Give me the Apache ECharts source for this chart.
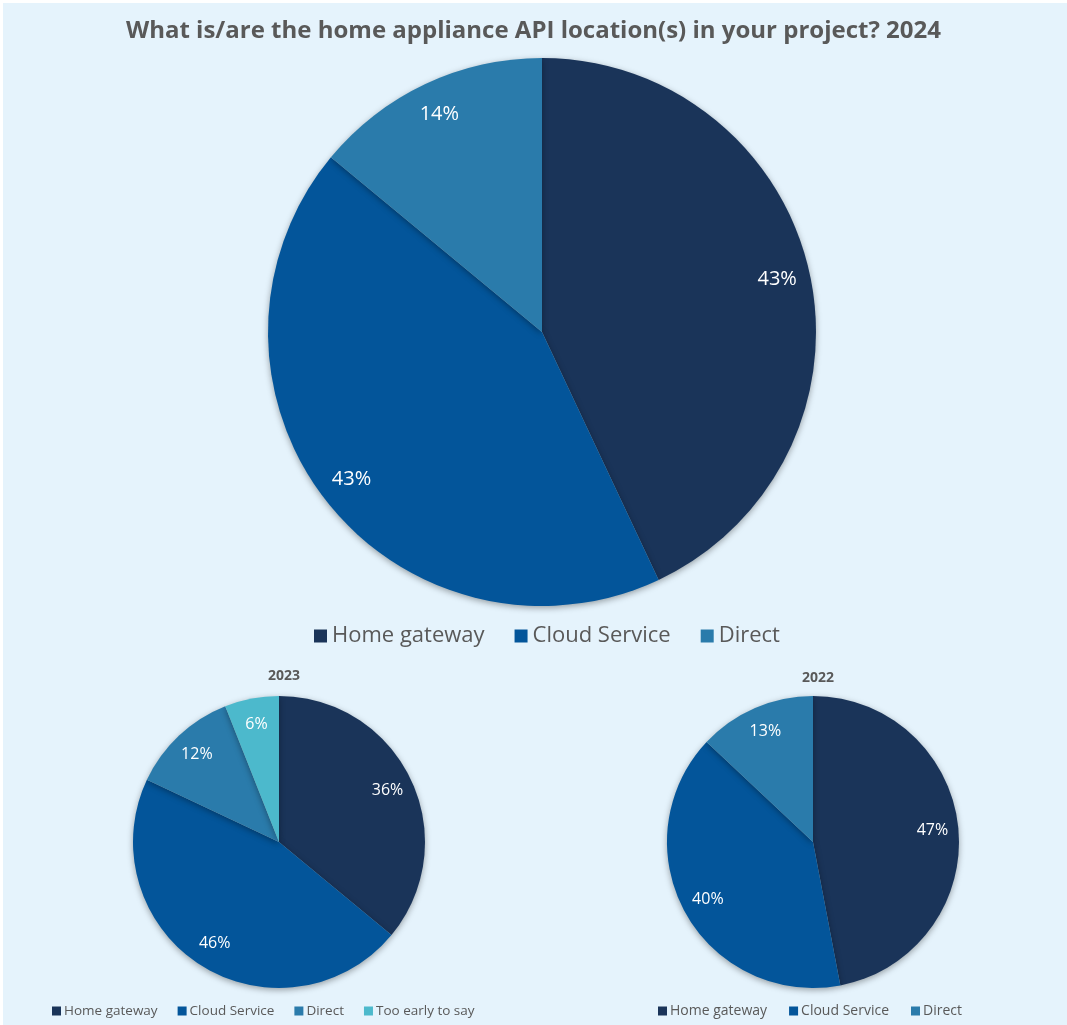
<!DOCTYPE html>
<html>
<head>
<meta charset="utf-8">
<script src="https://cdn.jsdelivr.net/npm/echarts@6/dist/echarts.min.js"></script>
<style>
  html, body { margin: 0; padding: 0; background: #ffffff; }
  #chart {
    width: 1067px; height: 1025px;
    background: #e5f3fc;
    box-shadow: inset 3px 3px 0 #ffffff;
  }
</style>
</head>
<body>
<div id="chart"></div>
<script>
// Survey answers, percent of respondents
const titleText = 'What is/are the home appliance API location(s) in your project? 2024';
const categories2024 = ['Home gateway', 'Cloud Service', 'Direct'];
const values2024 = [43, 43, 14];
const categories2023 = ['Home gateway', 'Cloud Service', 'Direct', 'Too early to say'];
const values2023 = [36, 46, 12, 6];
const categories2022 = ['Home gateway', 'Cloud Service', 'Direct'];
const values2022 = [47, 40, 13];
const yearLabels = ['2023', '2022'];

const palette = {
  'Home gateway': '#1a3459',
  'Cloud Service': '#03559a',
  'Direct': '#2a7bab',
  'Too early to say': '#4cb9cc'
};

const FONT = '"Open Sans", "Noto Sans", sans-serif';

function toData(cats, vals) {
  return cats.map((c, i) => ({ name: c, value: vals[i], itemStyle: { color: palette[c] } }));
}

// A filled pie plus a transparent ring on top of it that carries the labels,
// so the percentages sit near the outer edge of each slice.
function pieSeries(cats, vals, center, r, labelInner, fontSize) {
  return [
    {
      type: 'pie',
      center: center,
      radius: [0, r],
      startAngle: 90,
      clockwise: true,
      silent: true,
      label: { show: false },
      labelLine: { show: false },
      itemStyle: {
        borderWidth: 0,
        shadowBlur: 6,
        shadowOffsetY: 2,
        shadowColor: 'rgba(0,0,0,0.35)'
      },
      data: toData(cats, vals)
    },
    {
      type: 'pie',
      center: center,
      radius: [labelInner, r],
      startAngle: 90,
      clockwise: true,
      silent: true,
      itemStyle: { color: 'rgba(0,0,0,0)', borderWidth: 0 },
      label: {
        show: true,
        position: 'inside',
        formatter: '{c}%',
        color: '#ffffff',
        fontFamily: FONT,
        fontSize: fontSize
      },
      labelLine: { show: false },
      data: cats.map((c, i) => ({ name: c, value: vals[i] }))
    }
  ];
}

const chart = echarts.init(document.getElementById('chart'), null, { renderer: 'canvas' });

function smallLegend(data, left, fontSize, gap) {
  return {
    data: data,
    left: left,
    top: 999,
    icon: 'rect',
    itemWidth: 9,
    itemHeight: 9,
    itemGap: gap,
    selectedMode: false,
    textStyle: { fontFamily: FONT, fontSize: fontSize, color: '#595959', padding: [0, 0, 0, -2] }
  };
}

chart.setOption({
  backgroundColor: 'transparent',
  animation: false,
  title: [
    {
      text: titleText,
      left: 'center',
      top: 14,
      textStyle: { fontFamily: FONT, fontSize: 24, fontWeight: 'bold', color: '#595959' }
    },
    {
      text: yearLabels[0],
      left: 279,
      top: 664,
      textAlign: 'center',
      textStyle: { fontFamily: FONT, fontSize: 14, fontWeight: 'bold', color: '#595959' }
    },
    {
      text: yearLabels[1],
      left: 813,
      top: 666,
      textAlign: 'center',
      textStyle: { fontFamily: FONT, fontSize: 14, fontWeight: 'bold', color: '#595959' }
    }
  ],
  legend: [
    {
      data: categories2024,
      left: 309,
      top: 620,
      icon: 'rect',
      itemWidth: 13,
      itemHeight: 13,
      itemGap: 30,
      selectedMode: false,
      textStyle: { fontFamily: FONT, fontSize: 22, color: '#595959' }
    },
    smallLegend(categories2023, 47, 13.5, 20),
    smallLegend(categories2022, 653, 14, 22)
  ],
  series: [
    ...pieSeries(categories2024, values2024, [542, 332], 274, 202, 20),
    ...pieSeries(categories2023, values2023, [279, 842], 146, 88, 16),
    ...pieSeries(categories2022, values2022, [813, 842], 146, 88, 16)
  ]
});
</script>
</body>
</html>
